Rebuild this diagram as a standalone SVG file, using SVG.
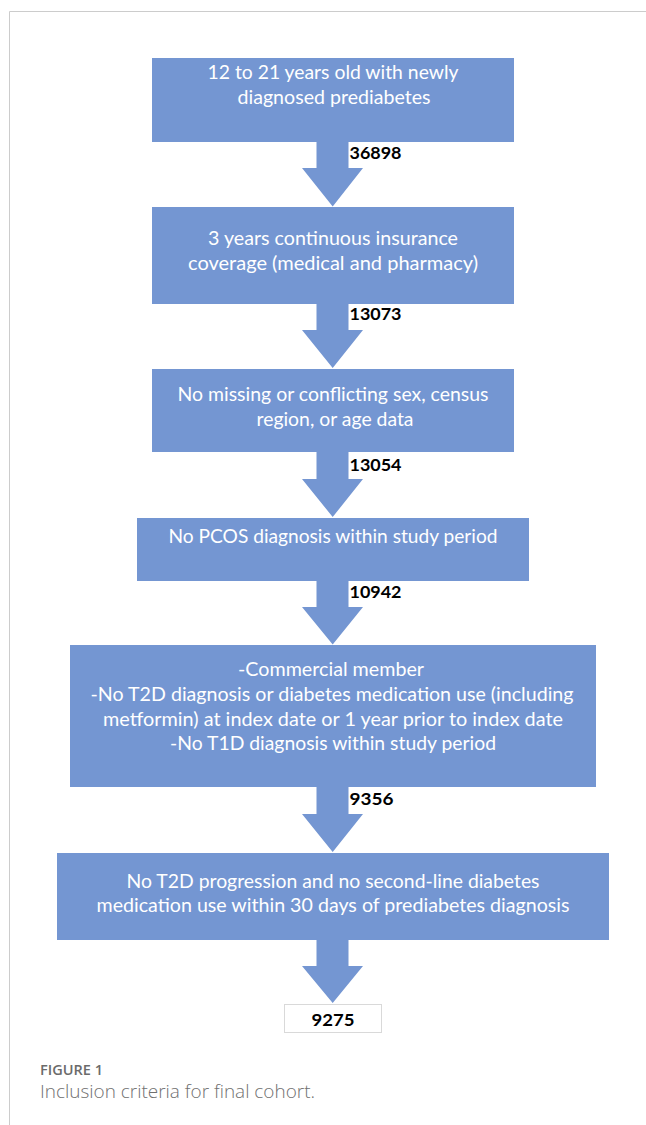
<svg xmlns="http://www.w3.org/2000/svg" width="646" height="1125" viewBox="0 0 646 1125">
<style>
.box{fill:#7496d2;}
.arr{fill:#7496d2;}
.t{font-family:Lato,"Open Sans","Liberation Sans",sans-serif;font-size:19px;fill:#ffffff;text-anchor:middle;}
.n{font-family:Lato,"Liberation Sans",sans-serif;font-size:17px;font-weight:bold;fill:#000000;}
.cap1{font-family:"Open Sans","Liberation Sans",sans-serif;font-size:15px;font-weight:600;fill:#6b6b6b;}
.cap2{font-family:"Open Sans","Liberation Sans",sans-serif;font-size:17.5px;font-weight:300;fill:#707070;}
</style>
<rect x="0" y="0" width="646" height="1125" fill="#ffffff"/>
<path d="M9.5 1125 V11.5 H646" fill="none" stroke="#cccccc" stroke-width="1"/>
<g id="connectors">
<path class="arr" d="M316.5 142 H348.5 V168 H363 L332.7 206.5 L302 168 H316.5 Z"/>
<path class="arr" d="M316.5 304 H348.5 V330 H363 L332.7 368 L302 330 H316.5 Z"/>
<path class="arr" d="M316.5 452 H348.5 V479 H363 L332.7 517 L302 479 H316.5 Z"/>
<path class="arr" d="M316.5 581 H348.5 V607 H363 L332.7 644.5 L302 607 H316.5 Z"/>
<path class="arr" d="M316.5 787 H348.5 V814 H363 L332.7 852 L302 814 H316.5 Z"/>
<path class="arr" d="M316.5 940 H348.5 V966 H363 L332.7 1003 L302 966 H316.5 Z"/>
<text class="n" x="349.5" y="159" textLength="52" lengthAdjust="spacingAndGlyphs">36898</text>
<text class="n" x="349.5" y="320" textLength="52" lengthAdjust="spacingAndGlyphs">13073</text>
<text class="n" x="349.5" y="471" textLength="52" lengthAdjust="spacingAndGlyphs">13054</text>
<text class="n" x="349.5" y="598" textLength="52" lengthAdjust="spacingAndGlyphs">10942</text>
<text class="n" x="349.5" y="805" textLength="44" lengthAdjust="spacingAndGlyphs">9356</text>
</g>
<g id="node1">
<rect class="box" x="152" y="58" width="362" height="84"/>
<text class="t" x="333" y="79" textLength="251" lengthAdjust="spacingAndGlyphs">12 to 21 years old with newly</text>
<text class="t" x="334" y="104" textLength="193" lengthAdjust="spacingAndGlyphs">diagnosed prediabetes</text>
</g>
<g id="node2">
<rect class="box" x="152" y="207" width="362" height="97"/>
<text class="t" x="333" y="245" textLength="250" lengthAdjust="spacingAndGlyphs">3 years continuous insurance</text>
<text class="t" x="333" y="270" textLength="290" lengthAdjust="spacingAndGlyphs">coverage (medical and pharmacy)</text>
</g>
<g id="node3">
<rect class="box" x="152" y="369" width="362" height="83"/>
<text class="t" x="333" y="401" textLength="311" lengthAdjust="spacingAndGlyphs">No missing or conflicting sex, census</text>
<text class="t" x="335" y="426" textLength="157" lengthAdjust="spacingAndGlyphs">region, or age data</text>
</g>
<g id="node4">
<rect class="box" x="137" y="518" width="392" height="63"/>
<text class="t" x="333" y="543" textLength="329" lengthAdjust="spacingAndGlyphs">No PCOS diagnosis within study period</text>
</g>
<g id="node5">
<rect class="box" x="70" y="645" width="526" height="142"/>
<text class="t" x="331" y="676" textLength="186" lengthAdjust="spacingAndGlyphs">-Commercial member</text>
<text class="t" x="332" y="701" textLength="483" lengthAdjust="spacingAndGlyphs">-No T2D diagnosis or diabetes medication use (including</text>
<text class="t" x="333" y="726" textLength="460" lengthAdjust="spacingAndGlyphs">metformin) at index date or 1 year prior to index date</text>
<text class="t" x="333" y="750" textLength="326" lengthAdjust="spacingAndGlyphs">-No T1D diagnosis within study period</text>
</g>
<g id="node6">
<rect class="box" x="57" y="853" width="552" height="87"/>
<text class="t" x="333" y="888" textLength="413" lengthAdjust="spacingAndGlyphs">No T2D progression and no second-line diabetes</text>
<text class="t" x="333" y="912" textLength="473" lengthAdjust="spacingAndGlyphs">medication use within 30 days of prediabetes diagnosis</text>
</g>
<g id="node7">
<rect x="284.5" y="1004.5" width="97" height="28" fill="#ffffff" stroke="#d9d9d9" stroke-width="1"/>
<text class="n" x="333" y="1026" text-anchor="middle" textLength="43" lengthAdjust="spacingAndGlyphs">9275</text>
</g>
<g id="caption">
<text class="cap1" x="40" y="1075" textLength="63" lengthAdjust="spacingAndGlyphs">FIGURE 1</text>
<text class="cap2" x="40" y="1098" textLength="275" lengthAdjust="spacingAndGlyphs">Inclusion criteria for final cohort.</text>
</g>
</svg>
